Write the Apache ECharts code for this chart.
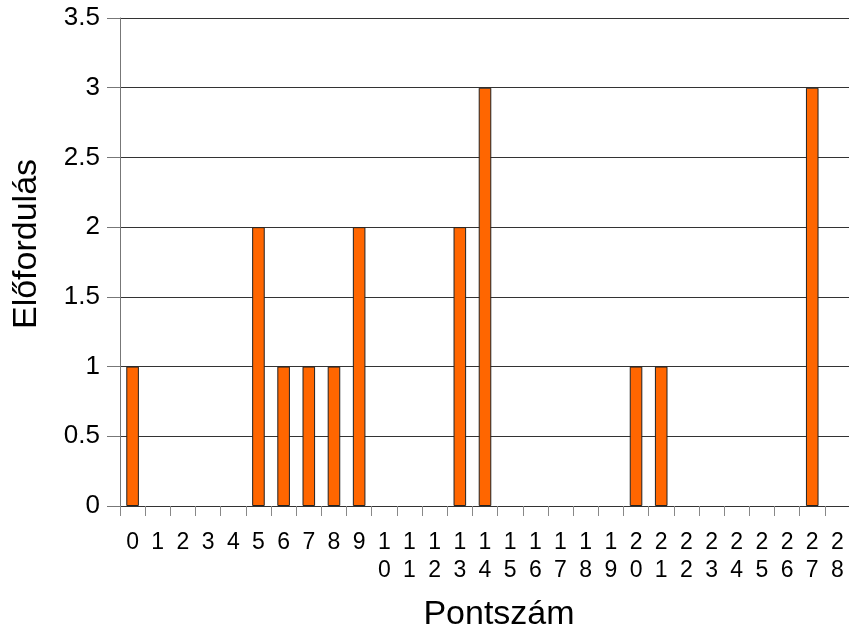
<!DOCTYPE html>
<html><head><meta charset="utf-8">
<script src="https://cdn.jsdelivr.net/npm/echarts@6/dist/echarts.min.js"></script>
<style>html,body{margin:0;padding:0;background:#fff}#c{width:849px;height:632px}</style>
</head><body><div id="c"></div>
<script>
const categories = ['0','1','2','3','4','5','6','7','8','9','10','11','12','13','14','15','16','17','18','19','20','21','22','23','24','25','26','27','28'];
const values = [1,0,0,0,0,2,1,1,1,2,0,0,0,2,3,0,0,0,0,0,1,1,0,0,0,0,0,3,0];
const yTicks = [0,0.5,1,1.5,2,2.5,3,3.5];
const font = 'Liberation Sans, Arial, sans-serif';
const chart = echarts.init(document.getElementById('c'), null, {renderer:'canvas'});
chart.setOption({
  animation:false,
  grid:{left:120, right:-1, top:18, bottom:126, containLabel:false, outerBoundsMode:'none'},
  xAxis:{
    type:'category', data:categories,
    name:'Pontszám', nameLocation:'middle', nameGap:92,
    nameTextStyle:{fontFamily:font, fontSize:34, color:'#000', padding:[0,0,0,28]},
    axisLine:{show:true, lineStyle:{color:'#333', width:1}},
    axisTick:{show:true, length:10, alignWithLabel:false, lineStyle:{color:'#888'}},
    axisLabel:{fontFamily:font, fontSize:23, color:'#000', interval:0, margin:23, lineHeight:28,
      verticalAlign:'top',
      formatter:v=>v.split('').join('\n')}
  },
  yAxis:{
    type:'value', min:0, max:3.5, interval:0.5,
    name:'Előfordulás', nameLocation:'middle', nameGap:76,
    nameTextStyle:{fontFamily:font, fontSize:34, color:'#000', padding:[0,0,0,36]},
    axisLine:{show:true, lineStyle:{color:'#777', width:1}},
    axisTick:{show:true, length:13, lineStyle:{color:'#777'}},
    axisLabel:{fontFamily:font, fontSize:26, color:'#000', margin:20,
      formatter:v=>yTicks.includes(v)?String(v):''},
    splitLine:{show:true, lineStyle:{color:'#333', width:1}}
  },
  series:[{
    type:'bar', barWidth:'50%',
    data:values.map(v=>v===0?{value:v,itemStyle:{borderWidth:0,opacity:0}}:v),
    itemStyle:{color:'#ff6600', borderColor:'#222', borderWidth:1}
  }]
});
</script></body></html>
